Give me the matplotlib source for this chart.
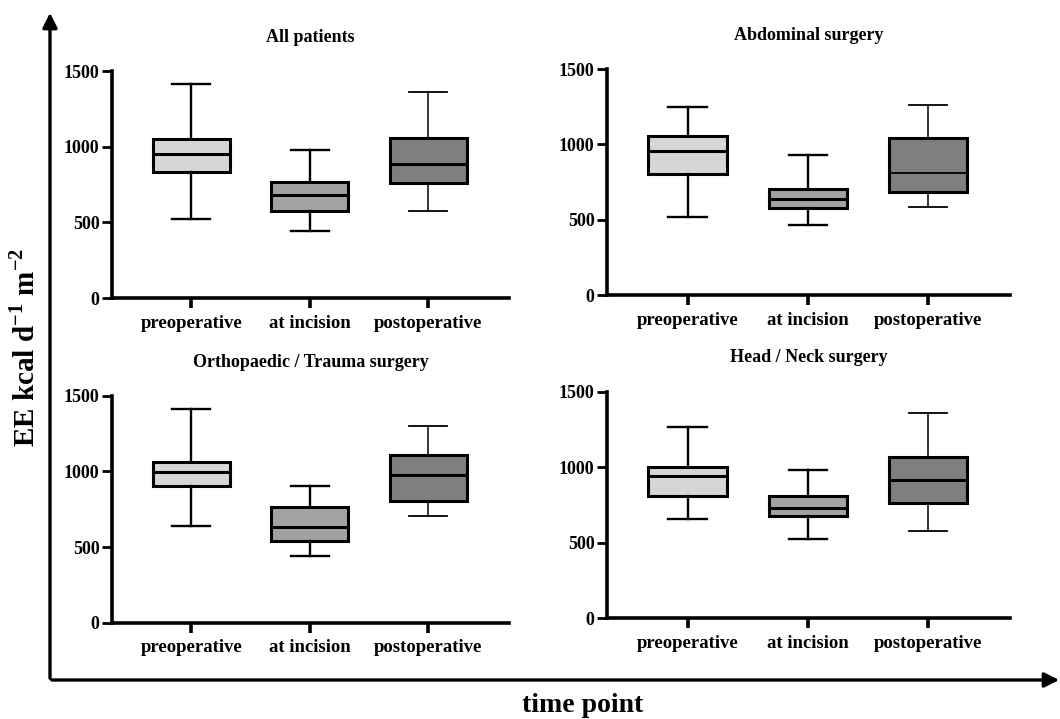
import matplotlib.pyplot as plt
from matplotlib.patches import FancyArrowPatch

plt.rcParams['font.family'] = ['Liberation Serif', 'DejaVu Serif']
plt.rcParams['font.weight'] = 'bold'
plt.rcParams['mathtext.fontset'] = 'custom'
plt.rcParams['mathtext.rm'] = 'Liberation Serif:bold'
plt.rcParams['mathtext.bf'] = 'Liberation Serif:bold'

timepoints = ['preoperative', 'at incision', 'postoperative']
box_colors = ['#d6d6d6', '#a2a2a4', '#7f7f7f']

# five-number summaries per time point: (lower whisker, Q1, median, Q3, upper whisker)
all_patients = [(520, 831, 952, 1050, 1412),
                (441, 577, 681, 767, 978),
                (575, 758, 884, 1057, 1359)]
abdominal = [(518, 803, 955, 1055, 1250),
             (462, 577, 639, 705, 929),
             (586, 681, 812, 1042, 1259)]
ortho_trauma = [(639, 901, 993, 1064, 1410),
                (441, 540, 634, 767, 905),
                (703, 806, 978, 1106, 1300)]
head_neck = [(660, 812, 944, 1004, 1264),
             (525, 677, 728, 810, 979),
             (576, 763, 915, 1070, 1357)]

panels = [
    ('All patients', all_patients, [0.1057, 0.5855, 0.3745, 0.3157]),
    ('Abdominal surgery', abdominal, [0.5726, 0.5897, 0.3802, 0.3143]),
    ('Orthopaedic / Trauma surgery', ortho_trauma, [0.1057, 0.1339, 0.3745, 0.3157]),
    ('Head / Neck surgery', head_neck, [0.5726, 0.1401, 0.3802, 0.3152]),
]

fig = plt.figure(figsize=(10.6, 7.19), dpi=100)

for title, summary, rect in panels:
    ax = fig.add_axes(rect)
    stats = []
    for name, (lo, q1, med, q3, hi) in zip(timepoints, summary):
        stats.append({'label': name, 'whislo': lo, 'q1': q1, 'med': med,
                      'q3': q3, 'whishi': hi, 'fliers': []})
    for i, st in enumerate(stats):
        thin = i == 2
        ax.bxp([st], positions=[i + 1], widths=0.65, capwidths=0.32,
               patch_artist=True, showfliers=False,
               boxprops=dict(facecolor=box_colors[i], edgecolor='black', linewidth=2.2),
               medianprops=dict(color='black',
                                linewidth=1.3 if (thin and title == 'Abdominal surgery') else 2.2),
               whiskerprops=dict(color='black', linewidth=1.1 if thin else 1.7),
               capprops=dict(color='black', linewidth=1.3 if thin else 1.7))
    ax.set_xlim(1 - 0.67, 3 + 0.68)
    ax.set_ylim(0, 1500)
    ax.set_yticks([0, 500, 1000, 1500])
    ax.set_xticks([1, 2, 3])
    ax.set_xticklabels(timepoints)
    for side in ['top', 'right']:
        ax.spines[side].set_visible(False)
    for side in ['left', 'bottom']:
        ax.spines[side].set_linewidth(2.6)
    ax.tick_params(axis='y', length=7, width=2, pad=2, labelsize=13)
    ax.tick_params(axis='x', length=7, width=2.6, pad=5, labelsize=13.5)
    ax.set_title(title, fontsize=13, fontweight='bold', pad=21)

# outer axis arrows
W, H = 1060, 719
def fx(px):
    return px / W
def fy(py):
    return 1 - py / H

fig.add_artist(FancyArrowPatch((fx(50), fy(681)), (fx(50), fy(10)),
                               transform=fig.transFigure, arrowstyle='-|>',
                               mutation_scale=22, linewidth=2.4, color='black'))
fig.add_artist(FancyArrowPatch((fx(49), fy(680)), (fx(1062), fy(680)),
                               transform=fig.transFigure, arrowstyle='-|>',
                               mutation_scale=22, linewidth=2.4, color='black'))

fig.text(fx(25), fy(347), r'EE kcal d$^{\mathbf{-1}}$ m$^{\mathbf{-2}}$', rotation=90,
         ha='center', va='center', fontsize=21, fontweight='bold')
fig.text(fx(583), fy(706), 'time point', ha='center', va='center',
         fontsize=20, fontweight='bold')

plt.savefig('out.png', dpi=100)
plt.close()
